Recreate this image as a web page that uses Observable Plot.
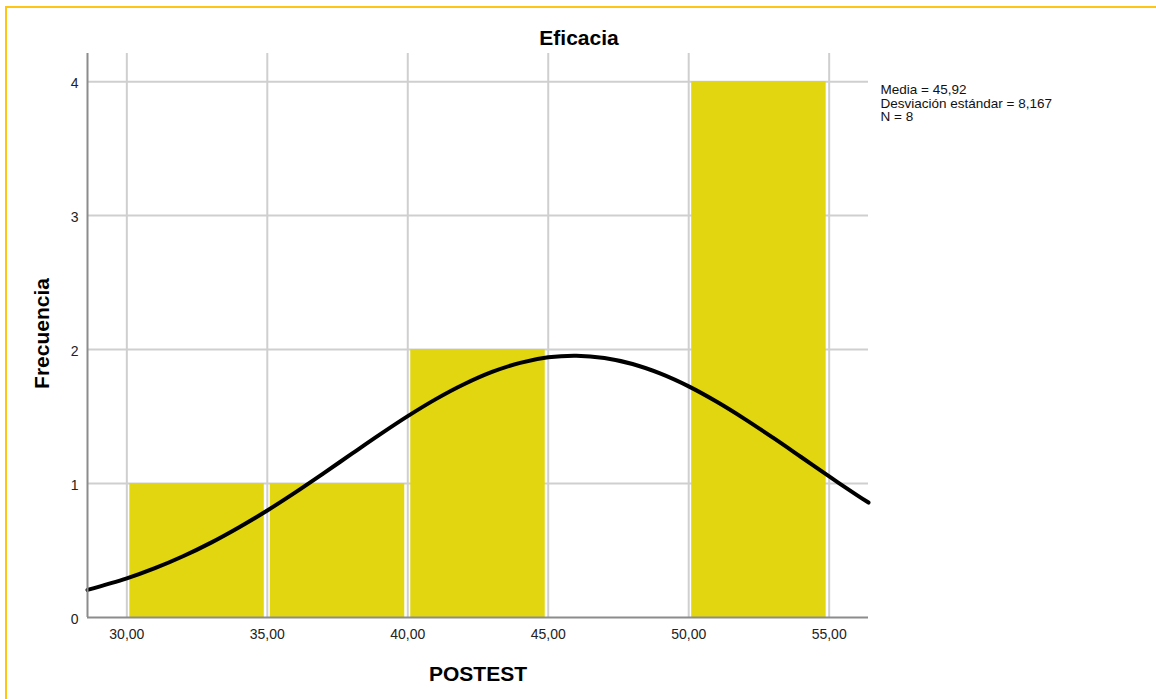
<!DOCTYPE html>
<html>
<head>
<meta charset="utf-8">
<script src="https://cdn.jsdelivr.net/npm/d3@7"></script>
<script src="https://cdn.jsdelivr.net/npm/@observablehq/plot@0.6"></script>
<style>
  html, body { margin: 0; padding: 0; background: #fff; overflow: hidden; }
  #wrap { position: relative; width: 1156px; height: 699px; }
  #border { position: absolute; left: 5px; top: 6px; width: 1300px; height: 900px;
            border-top: 2px solid #ffc414; border-left: 2px solid #ffc414; pointer-events: none; }
</style>
</head>
<body>
<div id="wrap"><div id="border"></div></div>
<script>
// ---- data ----
const title = "Eficacia";
const xLabel = "POSTEST";
const yLabel = "Frecuencia";
const binStart = [30, 35, 40, 45, 50];
const binEnd   = [35, 40, 45, 50, 55];
const counts   = [1, 1, 2, 0, 4];
const xTicks = [30, 35, 40, 45, 50, 55];
const yTicks = [0, 1, 2, 3, 4];
const xDomain = [28.6, 56.4];
const yDomain = [0, 4.21];
const statsLines = ["Media = 45,92", "Desviación estándar = 8,167", "N = 8"];
// normal curve
const curveX = [28.6, 30, 31, 32, 33, 34, 35, 36, 37, 38, 39, 40, 41, 42, 43, 44, 45, 46, 47, 48, 49, 50, 51, 52, 53, 54, 55, 56, 56.4];
const curveY = [0.206, 0.292, 0.368, 0.457, 0.559, 0.674, 0.799, 0.934, 1.076, 1.221, 1.365, 1.503, 1.630, 1.741, 1.833, 1.901, 1.942, 1.954, 1.937, 1.892, 1.820, 1.725, 1.610, 1.481, 1.342, 1.198, 1.053, 0.912, 0.858];

const bins = binStart.map((s, i) => ({x1: s, x2: binEnd[i], y: counts[i]}));
const curve = curveX.map((x, i) => ({x, y: curveY[i]}));
const fmt = d => d.toFixed(2).replace(".", ",");
const font = "'Liberation Sans', Arial, Helvetica, sans-serif";

const chart = Plot.plot({
  width: 1156,
  height: 699,
  marginLeft: 87,
  marginRight: 288,
  marginTop: 53,
  marginBottom: 82,
  style: {fontFamily: font, fontSize: "14px", background: "transparent", color: "#000"},
  x: {domain: xDomain, label: null},
  y: {domain: yDomain, label: null},
  marks: [
    Plot.gridX(xTicks, {stroke: "#cfcfcf", strokeOpacity: 1, strokeWidth: 2}),
    Plot.gridY(yTicks.filter(d => d > 0), {stroke: "#cfcfcf", strokeOpacity: 1, strokeWidth: 2}),
    Plot.rectY(bins, {x1: "x1", x2: "x2", y: "y", fill: "#e1d60f", insetLeft: 3, insetRight: 3}),
    Plot.line(curve, {x: "x", y: "y", stroke: "#000", strokeWidth: 4, curve: "catmull-rom"}),
    Plot.ruleX([xDomain[0]], {stroke: "#8c8c8c", strokeWidth: 2}),
    Plot.ruleY([0], {stroke: "#8c8c8c", strokeWidth: 2}),
    Plot.axisX({ticks: xTicks, tickSize: 0, tickPadding: 12, tickFormat: fmt, fontSize: 14, fill: "#222", label: null}),
    Plot.axisY({ticks: yTicks, tickSize: 0, tickPadding: 9, dy: 2, fontSize: 14, fill: "#222", label: null, tickFormat: d => String(d)}),
    Plot.text([title], {frameAnchor: "top", dx: 101, dy: -15, lineAnchor: "middle", fontSize: 21, fontWeight: "bold", fill: "#000"}),
    Plot.text([yLabel], {frameAnchor: "left", textAnchor: "middle", dx: -45, dy: -2, rotate: -90, lineAnchor: "middle", fontSize: 21, fontWeight: "bold", fill: "#000"}),
    Plot.text([xLabel], {frameAnchor: "bottom", dy: 57, lineAnchor: "middle", fontSize: 21, fontWeight: "bold", fill: "#000"}),
    Plot.text([statsLines.join("\n")], {frameAnchor: "top-right", textAnchor: "start", dx: 12, dy: 31, lineAnchor: "top", lineHeight: 1.0, fontSize: 13.5, fill: "#111"})
  ]
});
document.getElementById("wrap").prepend(chart);
</script>
</body>
</html>
